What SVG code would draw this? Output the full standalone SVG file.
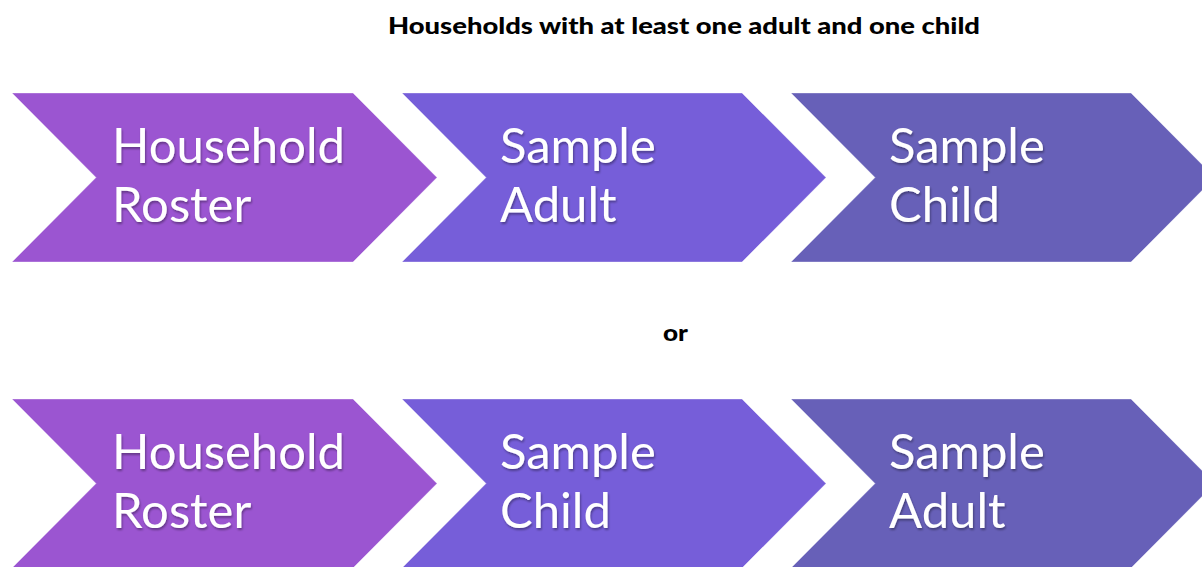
<svg xmlns="http://www.w3.org/2000/svg" width="1202" height="567" viewBox="0 0 1202 567">
<defs>
<filter id="sh" x="-10%" y="-20%" width="130%" height="150%">
<feGaussianBlur in="SourceAlpha" stdDeviation="1"/>
<feOffset dx="1.2" dy="1.8" result="b"/>
<feComponentTransfer><feFuncA type="linear" slope="0.35"/></feComponentTransfer>
<feMerge><feMergeNode/><feMergeNode in="SourceGraphic"/></feMerge>
</filter>
</defs>
<style>
.c1{fill:#9b55d1}
.c2{fill:#765ed9}
.c3{fill:#6760b8}
.ch{stroke:#ffffff;stroke-opacity:0.35;stroke-width:1}
.lbl{font-family:Lato,"Open Sans",sans-serif;font-size:49px;fill:#ffffff;filter:url(#sh)}
.hdr{font-family:Lato,"Liberation Sans",sans-serif;font-weight:900;font-size:22px;fill:#000000}
</style>
<rect width="1202" height="567" fill="#ffffff"/>
<text class="hdr" x="388" y="34" textLength="592" lengthAdjust="spacingAndGlyphs">Households with at least one adult and one child</text>
<text class="hdr" x="663" y="341" textLength="25" lengthAdjust="spacingAndGlyphs">or</text>
<g id="top-household-roster">
<polygon class="ch c1" points="12,93 353,93 437,177.5 353,262 12,262 96,177.5"/>
<text class="lbl" x="112" y="163">Household</text>
<text class="lbl" x="112" y="222">Roster</text>
</g>
<g id="top-sample-adult">
<polygon class="ch c2" points="402,93 742,93 826,177.5 742,262 402,262 486,177.5"/>
<text class="lbl" x="500" y="163">Sample</text>
<text class="lbl" x="500" y="222">Adult</text>
</g>
<g id="top-sample-child">
<polygon class="ch c3" points="791,93 1131,93 1215,177.5 1131,262 791,262 875,177.5"/>
<text class="lbl" x="889" y="163">Sample</text>
<text class="lbl" x="889" y="222">Child</text>
</g>
<g id="bottom-household-roster">
<polygon class="ch c1" points="12,399 353,399 437,483.5 353,568 12,568 96,483.5"/>
<text class="lbl" x="112" y="469">Household</text>
<text class="lbl" x="112" y="528">Roster</text>
</g>
<g id="bottom-sample-child">
<polygon class="ch c2" points="402,399 742,399 826,483.5 742,568 402,568 486,483.5"/>
<text class="lbl" x="500" y="469">Sample</text>
<text class="lbl" x="500" y="528">Child</text>
</g>
<g id="bottom-sample-adult">
<polygon class="ch c3" points="791,399 1131,399 1215,483.5 1131,568 791,568 875,483.5"/>
<text class="lbl" x="889" y="469">Sample</text>
<text class="lbl" x="889" y="528">Adult</text>
</g>
<g id="connectors"/>
</svg>
